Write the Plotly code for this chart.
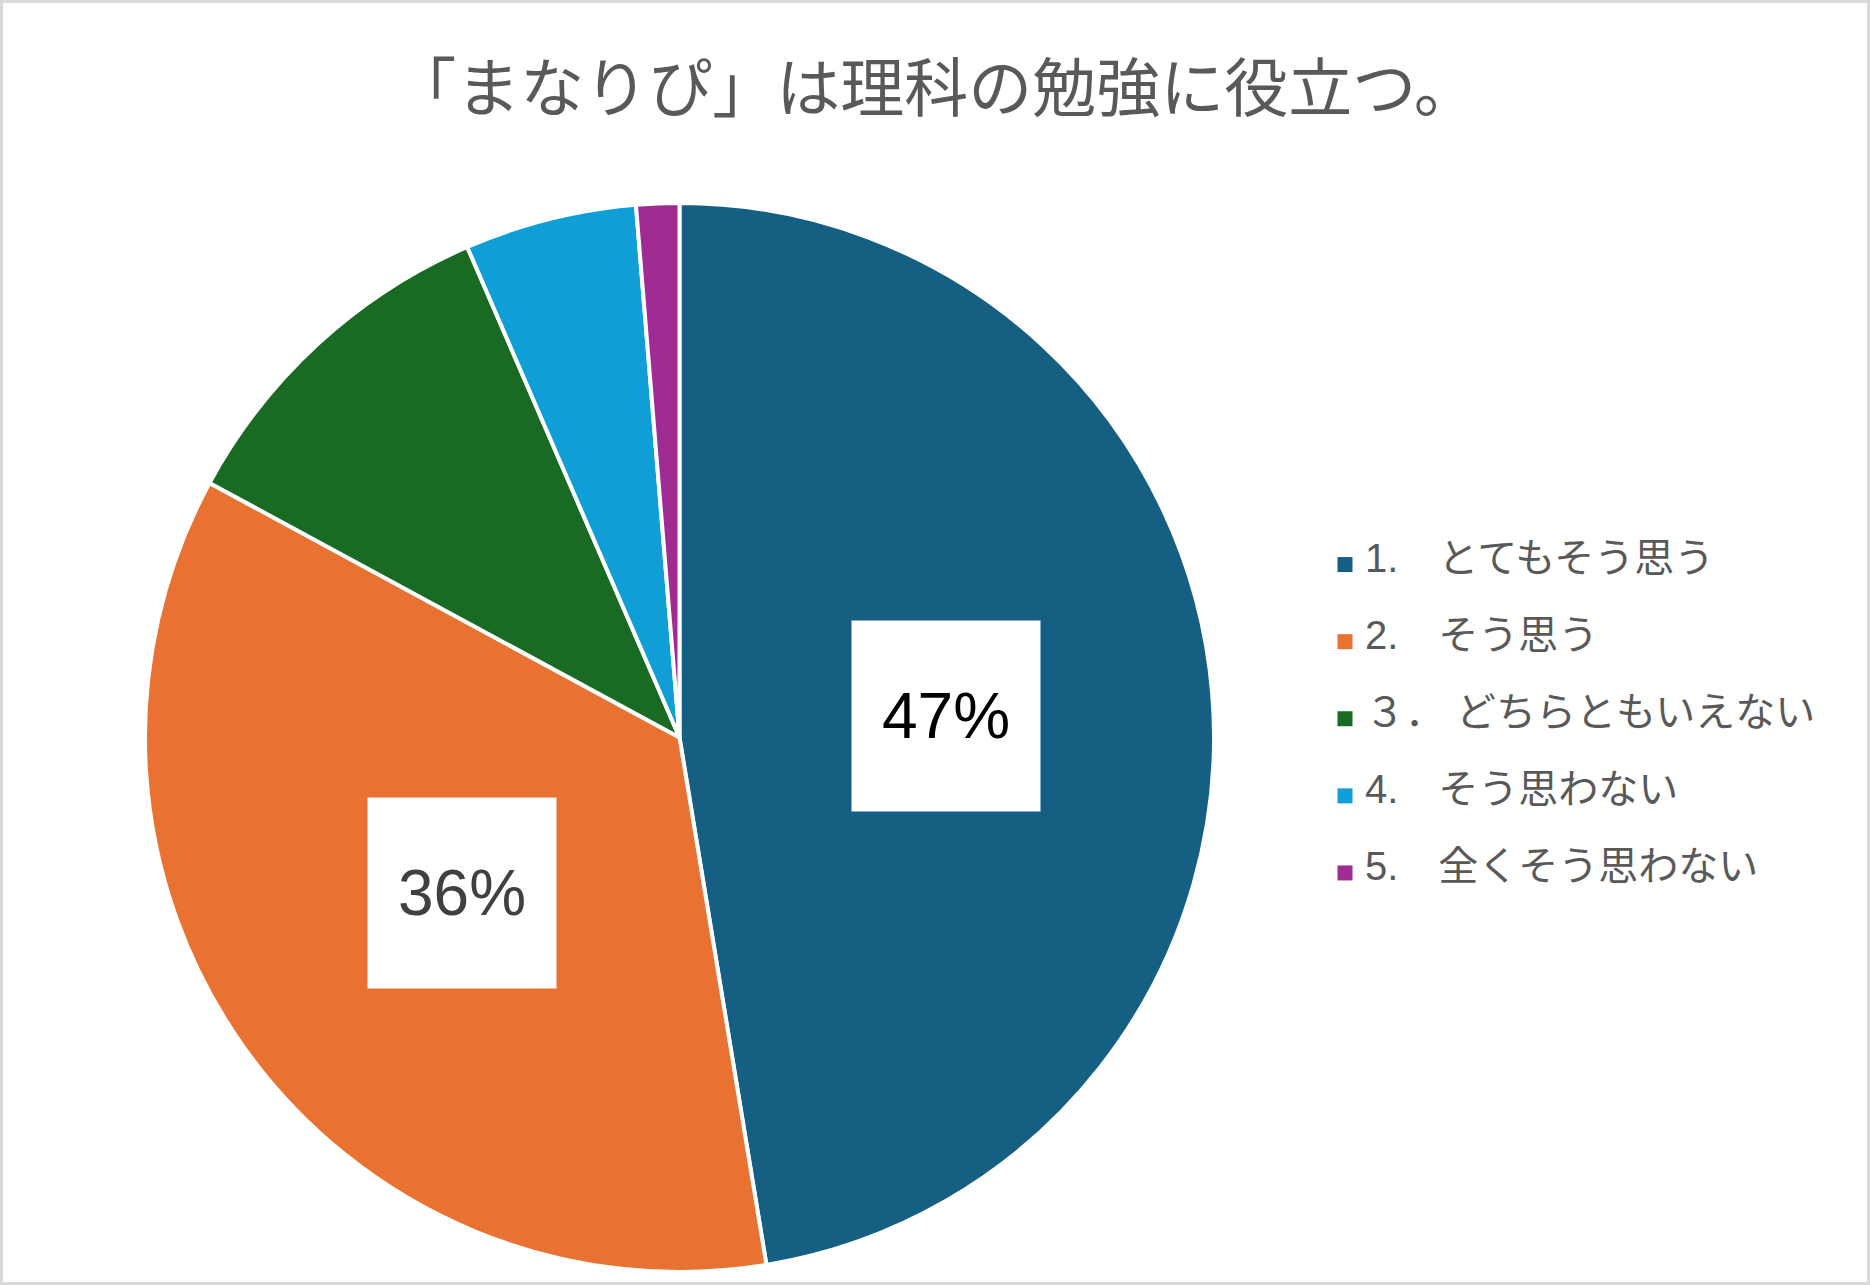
import math
import plotly.graph_objects as go

title_text = "「まなりぴ」は理科の勉強に役立つ。"
categories = ["1.　とてもそう思う", "2.　そう思う", "３． どちらともいえない", "4.　そう思わない", "5.　全くそう思わない"]
values = [47.4, 35.5, 10.6, 5.2, 1.3]
colors = ["#156082", "#E97132", "#196B24", "#0F9ED5", "#A02B93"]
shown_labels = [True, True, False, False, False]
label_colors = ["#000000", "#404040", "#404040", "#404040", "#404040"]

W, H = 1870, 1285
# pie geometry (pixels)
cx, cy, R = 679.5, 737.5, 534.5

fig = go.Figure()
fig.add_trace(go.Pie(
    labels=categories,
    values=values,
    sort=False,
    direction="clockwise",
    rotation=0,
    marker=dict(colors=colors, line=dict(color="white", width=4)),
    textinfo="none",
    hoverinfo="label+percent",
    showlegend=False,
    domain=dict(x=[(cx - R) / W, (cx + R) / W], y=[1 - (cy + R) / H, 1 - (cy - R) / H]),
))

# legend entries (square swatches) for each category
for c, col in zip(categories, colors):
    fig.add_trace(go.Scatter(
        x=[None], y=[None], mode="markers",
        marker=dict(symbol="square", size=15, color=col),
        name="\u00a0<br><span style='font-size:40px'>%s</span><br>\u00a0" % c,
        showlegend=True, hoverinfo="skip",
    ))

# data labels (white boxes) placed at slice mid-angles
total = sum(values)
cum = 0.0
annotations = []
for v, show, col in zip(values, shown_labels, label_colors):
    mid = (cum + v / 2) / total * 2 * math.pi
    cum += v
    if not show:
        continue
    px = cx + 0.5 * R * math.sin(mid)
    py = cy - 0.5 * R * math.cos(mid)
    annotations.append(dict(
        x=px / W, y=1 - py / H, xref="paper", yref="paper",
        xanchor="center", yanchor="middle",
        text="%d%%" % round(v / total * 100),
        showarrow=False, bgcolor="white", width=188, height=190,
        borderpad=0, align="center", valign="middle",
        font=dict(family="Liberation Sans, Arial", size=64, color=col),
    ))

fig.update_layout(
    width=W, height=H,
    margin=dict(l=0, r=0, t=0, b=0),
    paper_bgcolor="white",
    plot_bgcolor="rgba(0,0,0,0)",
    xaxis=dict(visible=False),
    yaxis=dict(visible=False),
    title=dict(text=title_text, x=0.5, xanchor="center", y=1 - 89 / H, yanchor="middle",
               xref="paper", yref="container",
               font=dict(family="Noto Sans CJK JP", size=64, color="#595959")),
    legend=dict(x=1325 / W, xanchor="left", y=1 - 719 / H, yanchor="middle",
                font=dict(family="Liberation Sans, Noto Sans CJK JP", size=19.0, color="#595959"),
                bgcolor="rgba(0,0,0,0)"),
    annotations=annotations,
    shapes=[dict(type="rect", xref="paper", yref="paper", x0=0, y0=0, x1=1, y1=1,
                 line=dict(color="#D9D9D9", width=6))],
)

fig.write_html("out.html")
